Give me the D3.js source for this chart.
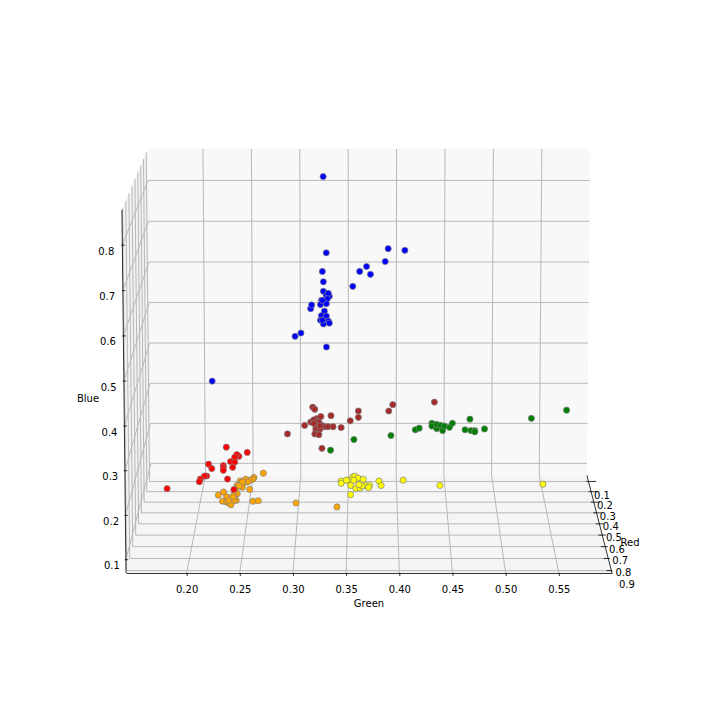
<!DOCTYPE html>
<html>
<head>
<meta charset="utf-8">
<script src="https://cdn.jsdelivr.net/npm/d3@7"></script>
<style>
  html, body { margin: 0; padding: 0; background: #fff; }
  text { font-family: "DejaVu Sans", sans-serif; font-size: 10px; fill: #000; }
</style>
</head>
<body>
<div id="chart"></div>
<script>
// tick labels
var greenTicks = [0.20, 0.25, 0.30, 0.35, 0.40, 0.45, 0.50, 0.55];
var blueTicks = [0.1, 0.2, 0.3, 0.4, 0.5, 0.6, 0.7, 0.8];
var redTicks = [0.1, 0.2, 0.3, 0.4, 0.5, 0.6, 0.7, 0.8, 0.9];

// axis limits
var greenLimits = [0.143, 0.6];
var blueLimits = [0.07, 0.877];
var redLimits = [0.039, 0.919];

// [green, blue] per cluster. red depth can't be read off the picture, so
// each cluster gets one estimated red value (clusterRed below)
var blueCluster = [[0.325,0.835],[0.328,0.652],[0.324,0.607],[0.325,0.582],[0.355,0.571],[0.362,0.607],[0.369,0.619],[0.373,0.600],[0.388,0.631],[0.391,0.662],[0.408,0.658],[0.328,0.424],[0.302,0.458],[0.296,0.450],[0.312,0.517],[0.313,0.526],[0.211,0.341],[0.325,0.559],[0.328,0.549],[0.331,0.547],[0.330,0.554],[0.323,0.537],[0.329,0.541],[0.322,0.527],[0.328,0.529],[0.326,0.511],[0.323,0.500],[0.328,0.499],[0.322,0.489],[0.330,0.487],[0.325,0.480],[0.331,0.482],[0.324,0.489],[0.324,0.537]];
var greenCluster = [[0.332,0.172],[0.356,0.198],[0.394,0.208],[0.419,0.222],[0.423,0.226],[0.436,0.238],[0.436,0.231],[0.441,0.225],[0.441,0.235],[0.445,0.233],[0.447,0.220],[0.449,0.231],[0.454,0.228],[0.457,0.238],[0.475,0.248],[0.470,0.222],[0.476,0.220],[0.480,0.220],[0.480,0.217],[0.490,0.224],[0.538,0.250],[0.574,0.270]];
var brownCluster = [[0.316,0.346],[0.318,0.341],[0.334,0.326],[0.353,0.314],[0.308,0.303],[0.314,0.311],[0.320,0.319],[0.324,0.324],[0.317,0.316],[0.322,0.311],[0.319,0.303],[0.325,0.303],[0.328,0.300],[0.331,0.300],[0.336,0.300],[0.344,0.298],[0.319,0.294],[0.323,0.294],[0.318,0.283],[0.322,0.281],[0.317,0.308],[0.323,0.302],[0.291,0.283],[0.325,0.249],[0.361,0.337],[0.361,0.322],[0.391,0.337],[0.395,0.352],[0.436,0.358]];
var orangeCluster = [[0.271,0.265],[0.262,0.255],[0.261,0.251],[0.258,0.249],[0.254,0.251],[0.256,0.245],[0.249,0.247],[0.252,0.243],[0.250,0.241],[0.246,0.237],[0.251,0.233],[0.245,0.230],[0.258,0.228],[0.246,0.218],[0.243,0.216],[0.233,0.222],[0.228,0.215],[0.236,0.211],[0.245,0.203],[0.243,0.203],[0.232,0.201],[0.236,0.199],[0.238,0.197],[0.240,0.193],[0.238,0.203],[0.242,0.211],[0.261,0.201],[0.266,0.202],[0.251,0.245],[0.248,0.236],[0.302,0.197],[0.341,0.188]];
var redCluster = [[0.235,0.312],[0.255,0.300],[0.247,0.291],[0.245,0.295],[0.243,0.289],[0.239,0.279],[0.243,0.278],[0.241,0.266],[0.218,0.273],[0.221,0.263],[0.232,0.270],[0.232,0.265],[0.232,0.259],[0.236,0.239],[0.216,0.246],[0.214,0.246],[0.210,0.239],[0.209,0.233],[0.242,0.215],[0.178,0.217]];
var yellowCluster = [[0.345,0.247],[0.345,0.242],[0.352,0.249],[0.356,0.256],[0.358,0.258],[0.361,0.254],[0.366,0.251],[0.354,0.237],[0.359,0.230],[0.363,0.231],[0.368,0.237],[0.372,0.237],[0.371,0.232],[0.365,0.236],[0.354,0.216],[0.381,0.247],[0.383,0.237],[0.357,0.249],[0.362,0.239],[0.350,0.249],[0.404,0.249],[0.439,0.237],[0.537,0.240]];

var clusters = [blueCluster, greenCluster, brownCluster, orangeCluster, redCluster, yellowCluster];
var clusterRed = [0.2, 0.2, 0.5, 0.8, 0.75, 0.8];
var clusterColors = ["#0000ff", "#008000", "#a52a2a", "#ffa500", "#ff0000", "#ffff00"];

var svg = d3.select("#chart").append("svg")
    .attr("width", 720)
    .attr("height", 720);

// camera: fitted on the corners of the reference box
var xScale = d3.scaleLinear().domain(greenLimits).range([-243, 243]);
var depthScale = d3.scaleLinear().domain(redLimits).range([1, 0]); // 0 = front, 1 = back
var heightScale = d3.scaleLinear().domain(blueLimits).range([0, 1]);

function project(g, r, b) {
  var d = depthScale(r);
  var h = heightScale(b);
  var w = 1 + 0.115 * d - 0.0165 * h;
  return [369 + xScale(g) / w, (573 - 366.5 * h - 43.2 * d * (1.115 / 1.12)) / w];
}

var line = d3.line();

var gMin = greenLimits[0], gMax = greenLimits[1];
var bMin = blueLimits[0], bMax = blueLimits[1];
var rMin = redLimits[0], rMax = redLimits[1];

//-------------------------------
// panes
var panes = [
  { fill: "#f8f8f8", pts: [[gMin, rMin, bMin], [gMax, rMin, bMin], [gMax, rMin, bMax], [gMin, rMin, bMax]] },
  { fill: "#f2f2f2", pts: [[gMin, rMin, bMin], [gMin, rMax, bMin], [gMin, rMax, bMax], [gMin, rMin, bMax]] },
  { fill: "#f5f5f5", pts: [[gMin, rMin, bMin], [gMax, rMin, bMin], [gMax, rMax, bMin], [gMin, rMax, bMin]] }
];

svg.append("g").selectAll("path")
    .data(panes)
    .enter().append("path")
    .attr("d", function(p) {
      return line(p.pts.map(function(q) { return project(q[0], q[1], q[2]); })) + "Z";
    })
    .attr("fill", function(p) { return p.fill; })
    .attr("stroke", "none");

//-------------------------------
// grid
var gridSegments = [];
greenTicks.forEach(function(g) {
  gridSegments.push([[g, rMin, bMax], [g, rMin, bMin], [g, rMax, bMin]]);
});
blueTicks.forEach(function(b) {
  gridSegments.push([[gMax, rMin, b], [gMin, rMin, b], [gMin, rMax, b]]);
});
redTicks.forEach(function(r) {
  gridSegments.push([[gMin, r, bMax], [gMin, r, bMin], [gMax, r, bMin]]);
});

svg.append("g").selectAll("path")
    .data(gridSegments)
    .enter().append("path")
    .attr("d", function(s) {
      return line(s.map(function(q) { return project(q[0], q[1], q[2]); }));
    })
    .attr("fill", "none")
    .attr("stroke", "#b8b8b8")
    .attr("stroke-width", 1);

//-------------------------------
// green axis, the front edge is straight so d3.axisBottom can do it
var greenFront = d3.scaleLinear()
    .domain(greenLimits)
    .range([project(gMin, rMax, bMin)[0], project(gMax, rMax, bMin)[0]]);

var greenAxis = svg.append("g")
    .attr("transform", "translate(0," + project(gMin, rMax, bMin)[1] + ")")
    .call(d3.axisBottom(greenFront)
      .tickValues(greenTicks)
      .tickFormat(d3.format(".2f"))
      .tickSizeInner(3)
      .tickSizeOuter(0)
      .tickPadding(10));
greenAxis.selectAll("path").attr("stroke", "#000").attr("stroke-width", 0.8);
greenAxis.selectAll("line").attr("stroke", "#000").attr("stroke-width", 0.8);
greenAxis.selectAll("text").style("font-family", null).style("font-size", "10px");
greenAxis.attr("font-size", null).attr("font-family", null);

//-------------------------------
// blue and red axes are tilted, drawn from the projection
svg.append("path")
    .attr("d", line([project(gMin, rMax, bMin), project(gMin, rMax, bMax)]))
    .attr("stroke", "#000").attr("stroke-width", 0.8).attr("fill", "none");
svg.append("path")
    .attr("d", line([project(gMax, rMax, bMin), project(gMax, rMin, bMin)]))
    .attr("stroke", "#000").attr("stroke-width", 0.8).attr("fill", "none");

blueTicks.forEach(function(b) {
  var p = project(gMin, rMax, b);
  svg.append("line")
      .attr("x1", p[0] - 1).attr("x2", p[0] + 2.5)
      .attr("y1", p[1]).attr("y2", p[1])
      .attr("stroke", "#000").attr("stroke-width", 0.8);
  svg.append("text")
      .attr("x", p[0] - 16 + 2 * (0.8 - b) / 0.7)
      .attr("y", p[1] + 6)
      .attr("dy", "0.35em")
      .attr("text-anchor", "middle")
      .text(b.toFixed(1));
});

redTicks.forEach(function(r, i) {
  var p = project(gMax, r, bMin);
  var f = i / (redTicks.length - 1);
  svg.append("line")
      .attr("x1", p[0] - 2.3 - 2.7 * f).attr("x2", p[0] + 7.7 - 6.7 * f)
      .attr("y1", p[1]).attr("y2", p[1])
      .attr("stroke", "#000").attr("stroke-width", 0.8);
  svg.append("text")
      .attr("x", p[0] + 13.5 + 2 * f)
      .attr("y", p[1] + 14)
      .attr("dy", "0.35em")
      .attr("text-anchor", "middle")
      .text(r.toFixed(1));
});

svg.append("text").attr("x", 369).attr("y", 603).attr("dy", "0.35em").attr("text-anchor", "middle").text("Green");
svg.append("text").attr("x", 88).attr("y", 398).attr("dy", "0.35em").attr("text-anchor", "middle").text("Blue");
svg.append("text").attr("x", 630).attr("y", 542).attr("dy", "0.35em").attr("text-anchor", "middle").text("Red");

//-------------------------------
// points
clusters.forEach(function(cluster, i) {
  svg.append("g").selectAll("circle")
      .data(cluster)
      .enter().append("circle")
      .attr("cx", function(d) { return project(d[0], clusterRed[i], d[1])[0]; })
      .attr("cy", function(d) { return project(d[0], clusterRed[i], d[1])[1]; })
      .attr("r", 3.1)
      .attr("fill", clusterColors[i])
      .attr("stroke", "#808080")
      .attr("stroke-width", 0.7);
});
</script>
</body>
</html>
